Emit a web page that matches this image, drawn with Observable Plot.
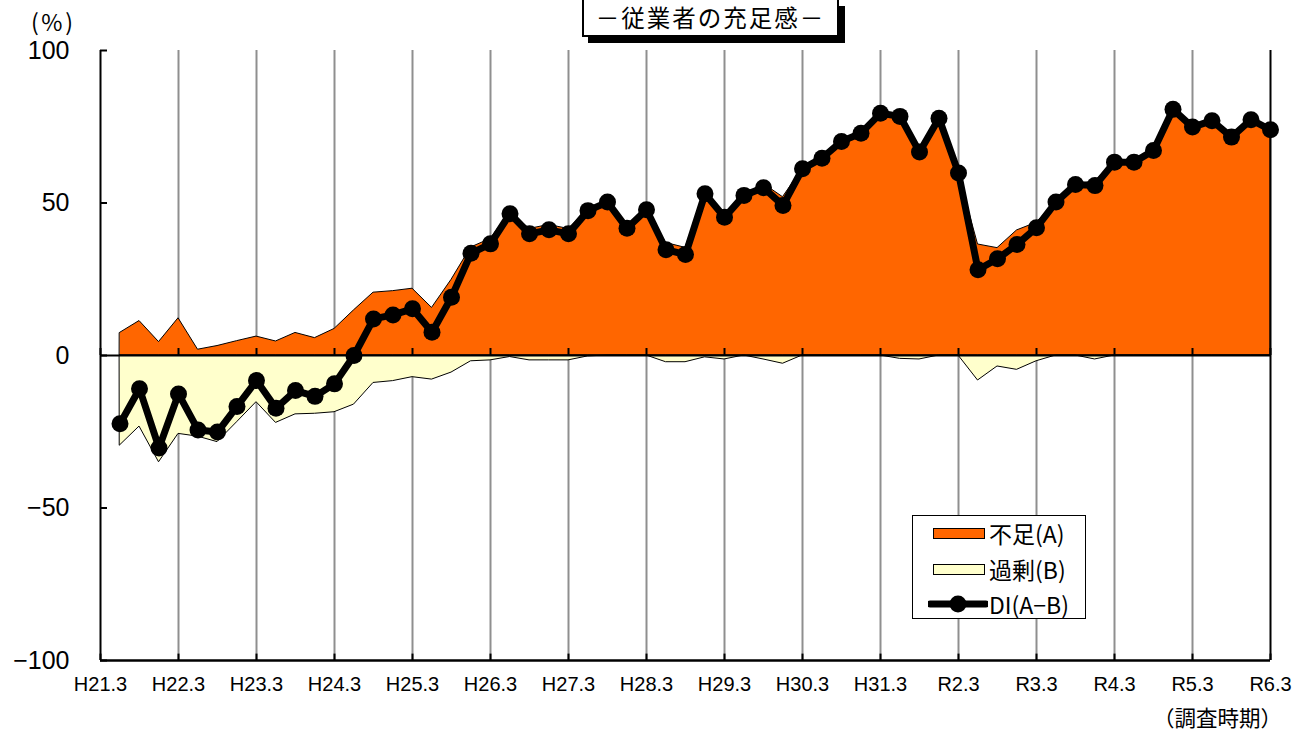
<!DOCTYPE html>
<html><head><meta charset="utf-8">
<script src="https://cdn.jsdelivr.net/npm/d3@7"></script>
<script src="https://cdn.jsdelivr.net/npm/@observablehq/plot@0.6"></script>
<style>
body{margin:0;background:#fff;}
#wrap{position:relative;width:1311px;height:731px;overflow:hidden;font-family:"Liberation Sans",Arial,sans-serif;}
#chart{position:absolute;left:0;top:0;}
#titlebox{position:absolute;left:582px;top:0;width:253px;height:35px;border:2px solid #000;border-top:none;box-shadow:6px 6px 0 #000;background:#fff;}
#title{position:absolute;left:582px;top:4px;width:257px;height:26px;font-family:"Noto Sans CJK JP",sans-serif;font-size:23.5px;line-height:26px;text-align:center;letter-spacing:2px;color:#000;}
.lbl{position:absolute;color:#000;white-space:nowrap;}
#legend{position:absolute;left:912px;top:515px;width:172px;height:102px;border:1px solid #000;background:#fff;}
#legend .row{position:absolute;left:0;height:30px;width:172px;}
#legend .sw{position:absolute;left:20px;top:10px;width:50px;height:9px;border:1px solid #000;}
#legend .tx{position:absolute;left:76px;top:0;line-height:30px;font-family:"Noto Sans CJK JP",sans-serif;font-size:23px;color:#000;}
</style></head>
<body><div id="wrap">
<div id="chart"></div>
<div id="titlebox"></div>
<div id="title">－従業者の充足感－</div>
<div class="lbl" id="pct" style="left:31px;top:9px;font-family:'Noto Sans CJK JP',sans-serif;font-size:23px;line-height:25px;letter-spacing:-1px;">(&thinsp;%&thinsp;)</div>
<div class="lbl" id="period" style="left:1153px;top:703px;font-family:'Noto Sans CJK JP',sans-serif;font-size:21.5px;line-height:28px;">（調査時期）</div>
<div id="legend"></div>
</div>
<script>
const tickLabels = ["H21.3","H22.3","H23.3","H24.3","H25.3","H26.3","H27.3","H28.3","H29.3","H30.3","H31.3","R2.3","R3.3","R4.3","R5.3","R6.3"];
const stepsPerYear = 4;
// 不足(A)
const shortage = [7.4,11.3,4.4,12.2,1.9,3.1,4.7,6.2,4.6,7.4,5.7,8.7,14.8,20.6,21.1,21.9,15.6,24.8,35.4,38.2,
  47.0,41.5,42.8,41.5,47.8,50.3,41.7,47.8,36.9,35.3,53.6,46.6,52.5,56.3,51.9,61.2,64.7,70.2,72.9,79.4,
  79.5,68.0,77.8,59.8,36.4,35.2,41.0,43.5,50.3,56.1,57.0,63.4,63.4,67.2,80.7,74.9,77.0,71.6,77.3,74.0];
// 過剰(B) (plotted below zero)
const surplus = [-29.5,-23.3,-35.0,-25.7,-26.6,-28.4,-21.9,-15.3,-22.1,-19.3,-19.1,-18.6,-16.1,-9.0,-8.4,-7.1,-7.9,-5.6,-1.9,-1.6,
  -0.5,-1.6,-1.6,-1.6,-0.3,0,0,0,-2.2,-2.2,-0.6,-1.3,0,-1.3,-2.7,0,0,0,0,0,
  -1.1,-1.3,0,0,-8.2,-3.6,-4.7,-1.9,0,0,-1.3,0,0,0,0,0,0,0,0,0];
// DI(A-B)
const di = [-22.4,-10.9,-30.3,-12.6,-24.4,-25.1,-16.7,-8.2,-17.3,-11.5,-13.4,-9.3,0,12.0,13.3,15.3,7.6,19.1,33.5,36.6,
  46.5,39.9,41.2,39.9,47.5,50.3,41.7,47.8,34.7,33.1,53.0,45.3,52.5,55.0,49.2,61.2,64.7,70.2,72.9,79.4,
  78.4,66.7,77.8,59.8,28.1,31.7,36.4,41.9,50.3,56.1,55.7,63.4,63.4,67.2,80.7,74.9,77.0,71.6,77.3,74.0];
const yTicks = [-100,-50,0,50,100];

const data = di.map((v,i)=>({t:i+1, a:shortage[i], b:surplus[i], di:v}));
const xTicks = tickLabels.map((_,i)=>i*stepsPerYear);
const xMax = xTicks[xTicks.length-1];
const innerGrid = xTicks.slice(1,-1);
const fmtY = d => d < 0 ? "\u2212" + (-d) : String(d);

const chart = Plot.plot({
  width:1311, height:731,
  marginLeft:100, marginRight:41, marginTop:50, marginBottom:71,
  style:{fontFamily:"'Liberation Sans', Arial, sans-serif", background:"transparent", color:"#000"},
  x:{domain:[0, xMax], axis:null, label:null},
  y:{domain:[-100,100], axis:null, label:null},
  marks:[
    Plot.ruleX(innerGrid, {stroke:"#8f8f8f", strokeWidth:2}),
    Plot.areaY(data, {x:"t", y1:0, y2:"a", fill:"#FF6600", stroke:"#000", strokeWidth:1}),
    Plot.areaY(data, {x:"t", y1:0, y2:"b", fill:"#FFFFCC", stroke:"#000", strokeWidth:1}),
    Plot.ruleY([0], {stroke:"#000", strokeWidth:2}),
    Plot.ruleX(xTicks, {y1:0, y2:2.3, stroke:"#000", strokeWidth:2}),
    Plot.ruleX(xTicks, {y1:-100, y2:-97.9, stroke:"#000", strokeWidth:2}),
    Plot.ruleY(yTicks, {x1:0, x2:0.36, stroke:"#000", strokeWidth:2}),
    Plot.ruleX([0, xMax], {stroke:"#000", strokeWidth:2}),
    Plot.ruleY([-100], {stroke:"#000", strokeWidth:2.5}),
    Plot.line(data, {x:"t", y:"di", stroke:"#000", strokeWidth:7, strokeLinejoin:"round"}),
    Plot.dot(data, {x:"t", y:"di", r:8.5, fill:"#000"}),
    Plot.axisY({ticks:yTicks, tickSize:0, tickPadding:31, fontSize:25, tickFormat:fmtY, label:null}),
    Plot.axisX({ticks:xTicks, tickSize:0, tickPadding:16, fontSize:20, tickFormat:d=>tickLabels[d/stepsPerYear], label:null})
  ]
});
document.getElementById("chart").appendChild(chart);

// legend
const legendItems = [
  {label:"不足(A)", kind:"area", color:"#FF6600"},
  {label:"過剰(B)", kind:"area", color:"#FFFFCC"},
  {label:"DI(A\u2212B)", kind:"line", color:"#000"}
];
const lg = document.getElementById("legend");
const rowTops = [2, 38, 73];
legendItems.forEach((it,i)=>{
  const row = document.createElement("div");
  row.className = "row";
  row.style.top = rowTops[i] + "px";
  if (it.kind === "area") {
    const sw = document.createElement("div");
    sw.className = "sw";
    sw.style.background = it.color;
    row.appendChild(sw);
  } else {
    const ns = "http://www.w3.org/2000/svg";
    const svg = document.createElementNS(ns, "svg");
    svg.setAttribute("width", "60"); svg.setAttribute("height", "30");
    svg.style.position = "absolute"; svg.style.left = "15px"; svg.style.top = "0px";
    const ln = document.createElementNS(ns, "line");
    ln.setAttribute("x1","2"); ln.setAttribute("x2","58"); ln.setAttribute("y1","15"); ln.setAttribute("y2","15");
    ln.setAttribute("stroke", it.color); ln.setAttribute("stroke-width","7"); ln.setAttribute("stroke-linecap","round");
    const c = document.createElementNS(ns, "circle");
    c.setAttribute("cx","30"); c.setAttribute("cy","15"); c.setAttribute("r","8.5"); c.setAttribute("fill", it.color);
    svg.appendChild(ln); svg.appendChild(c);
    row.appendChild(svg);
  }
  const tx = document.createElement("div");
  tx.className = "tx";
  tx.textContent = it.label;
  row.appendChild(tx);
  lg.appendChild(row);
});
</script>
</body></html>
